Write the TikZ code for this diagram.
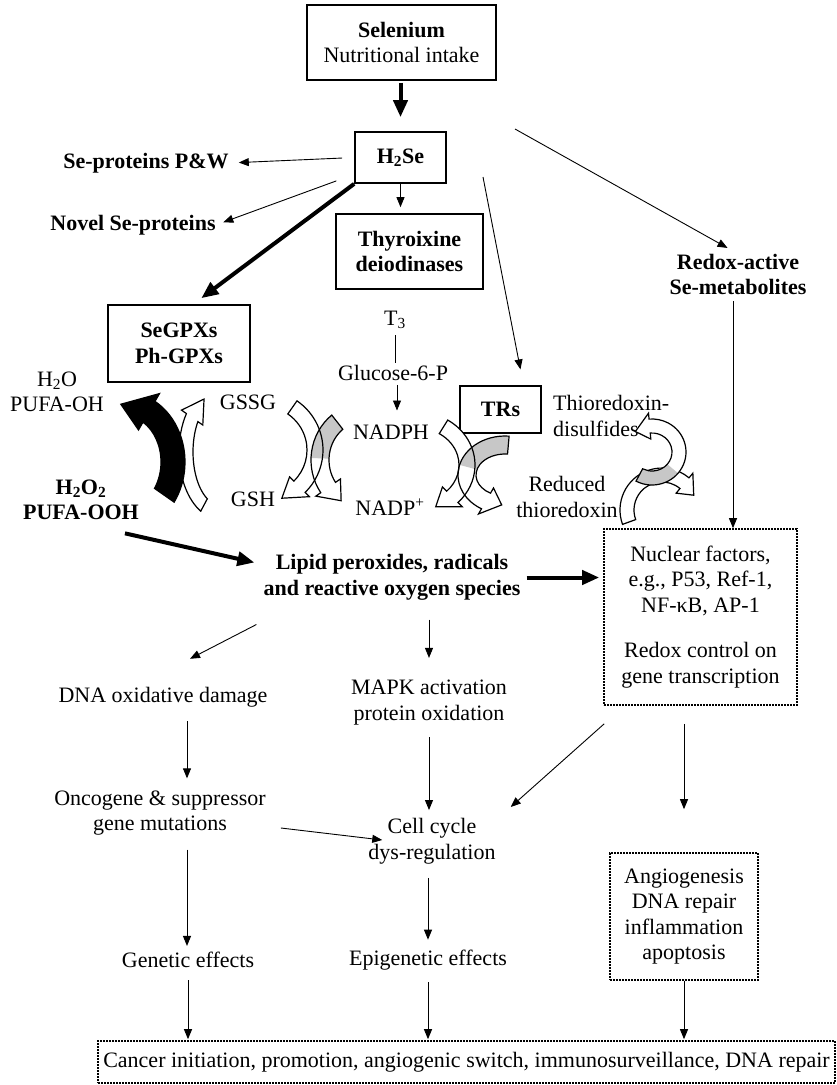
\documentclass[tikz,border=0pt]{standalone}
\usepackage{fontspec}
\setmainfont{Liberation Serif}
\usetikzlibrary{arrows.meta}

% curved broad arrow running along an elliptical arc
% #1 style, #2 centre, #3 rx, #4 ry, #5 tail angle, #6 head-base angle, #7 tip angle,
% #8 half width of the band, #9 half width of the head
\newcommand\cyclearrow[9]{%
  \pgfmathsetmacro\cxo{#3+#8}\pgfmathsetmacro\cyo{#4+#8}%
  \pgfmathsetmacro\cxi{#3-#8}\pgfmathsetmacro\cyi{#4-#8}%
  \pgfmathsetmacro\cxh{#3+#9}\pgfmathsetmacro\cyh{#4+#9}%
  \pgfmathsetmacro\cxj{#3-#9}\pgfmathsetmacro\cyj{#4-#9}%
  \path[#1, shift={#2}]
    ({\cxo*cos(#5)},{\cyo*sin(#5)})
    arc[start angle=#5, end angle=#6, x radius=\cxo, y radius=\cyo]
    -- ({\cxh*cos(#6)},{\cyh*sin(#6)})
    -- ({#3*cos(#7)},{#4*sin(#7)})
    -- ({\cxj*cos(#6)},{\cyj*sin(#6)})
    -- ({\cxi*cos(#6)},{\cyi*sin(#6)})
    arc[start angle=#6, end angle=#5, x radius=\cxi, y radius=\cyi]
    -- cycle;}

% a plain piece of such a band (used for the shaded tails)
% #1 style, #2 centre, #3 rx, #4 ry, #5 from angle, #6 to angle, #7 half width
\newcommand\cycleband[7]{%
  \pgfmathsetmacro\cxo{#3+#7}\pgfmathsetmacro\cyo{#4+#7}%
  \pgfmathsetmacro\cxi{#3-#7}\pgfmathsetmacro\cyi{#4-#7}%
  \path[#1, shift={#2}]
    ({\cxo*cos(#5)},{\cyo*sin(#5)})
    arc[start angle=#5, end angle=#6, x radius=\cxo, y radius=\cyo]
    -- ({\cxi*cos(#6)},{\cyi*sin(#6)})
    arc[start angle=#6, end angle=#5, x radius=\cxi, y radius=\cyi]
    -- cycle;}

\definecolor{tailgrey}{gray}{0.78}

\begin{document}
\begin{tikzpicture}[x=1pt,y=-1pt,
  every node/.style={font=\fontsize{22}{25.5}\selectfont, inner sep=0pt, align=center},
  bx/.style={draw, line width=1.7pt},
  dbx/.style={draw, line width=1.6pt, dash pattern=on 1.6pt off 1.4pt},
  arr/.style={-{Triangle[length=10pt,width=8pt]}, line width=0.9pt},
  tarr/.style={-{Triangle[length=17pt,width=14pt]}, line width=4pt},
  cyc/.style={line width=1.2pt, line join=miter},
]
\useasboundingbox (0,0) rectangle (837,1085);

% ---------- boxes ----------
\node[bx, minimum width=189pt, minimum height=75pt] (sel) at (401.5,42.5)
  {\textbf{Selenium}\\Nutritional intake};
\node[bx, minimum width=91pt, minimum height=51pt] (h2se) at (400.5,157.5)
  {\textbf{H\textsubscript{2}Se}};
\node[bx, minimum width=147pt, minimum height=75pt] (thy) at (409.5,251.5)
  {\textbf{Thyroixine}\\\textbf{deiodinases}};
\node[bx, minimum width=142pt, minimum height=77pt] (segpx) at (179,343.5)
  {\textbf{SeGPXs}\\\textbf{Ph-GPXs}};
\node[bx, minimum width=81pt, minimum height=47pt] (trs) at (500.5,409.5)
  {\textbf{TRs}};
\node[dbx, minimum width=193pt, minimum height=176pt] (nuc) at (700.5,617)
  {Nuclear factors,\\e.g., P53, Ref-1,\\NF-κB, AP-1\\[20pt]Redox control on\\gene transcription};
\node[dbx, minimum width=148pt, minimum height=127pt] (angio) at (684,916.5)
  {Angiogenesis\\DNA repair\\inflammation\\apoptosis};
\node[dbx, minimum width=737pt, minimum height=42pt] (can) at (466.5,1062)
  {Cancer initiation, promotion, angiogenic switch, immunosurveillance, DNA repair};

% ---------- labels ----------
\node (sepw) at (146,163) {\textbf{Se-proteins P\&W}};
\node (novel) at (133,225) {\textbf{Novel Se-proteins}};
\node (redox) at (738,274.5) {\textbf{Redox-active}\\\textbf{Se-metabolites}};
\node (t3) at (395,320) {T\textsubscript{3}};
\node (glu) at (393,373) {Glucose-6-P};
\node (nadph) at (391,432) {NADPH};
\node (nadp) at (390,507) {NADP\textsuperscript{+}};
\node (gssg) at (248,402) {GSSG};
\node (gsh) at (253,499) {GSH};
\node (h2o) at (57,392) {H\textsubscript{2}O\\PUFA-OH};
\node (hpo) at (81,500) {\textbf{H\textsubscript{2}O\textsubscript{2}}\\\textbf{PUFA-OOH}};
\node[anchor=west, align=left] (trxd) at (553,416) {Thioredoxin-\\disulfides};
\node (rtrx) at (567,497) {Reduced\\thioredoxin};
\node (lipid) at (392,577.5) {\textbf{Lipid peroxides, radicals}\\\textbf{and reactive oxygen species}};
\node (dna) at (163,697) {DNA oxidative damage};
\node (mapk) at (429,702.5) {MAPK activation\\protein oxidation};
\node (onc) at (160,813) {Oncogene \& suppressor\\gene mutations};
\node (cell) at (432,841) {Cell cycle\\dys-regulation};
\node (gen) at (188,960) {Genetic effects};
\node (epi) at (428,960) {Epigenetic effects};

\coordinate (trsfrom) at (483,177);
\coordinate (redfrom) at (515,129);

% ---------- connectors ----------
\draw[tarr, shorten <=2pt, shorten >=14pt] (sel.south -| h2se.north) -- (h2se.north);
\draw[arr, shorten <=12pt, shorten >=10pt] (h2se.west) -- (sepw.east);
\draw[arr, shorten <=19pt, shorten >=8pt] (h2se.200) -- (novel.east);
\draw[tarr, shorten >=10pt] (h2se.south west) -- (segpx.70);
\draw[arr, shorten >=6pt] (h2se.south) -- (h2se.south |- thy.north);
\draw[arr, shorten >=16pt] (trsfrom) -- ([xshift=23pt]trs.north);
\draw[arr, shorten >=12pt] (redfrom) -- (redox.north);
\draw[line width=0.9pt, shorten <=6pt, shorten >=2pt] (t3.south) -- (t3.south |- glu.north);
\draw[arr, shorten <=4pt, shorten >=14pt] ([xshift=4pt]glu.south) -- ([xshift=4pt]glu.south |- nadph.north);
\draw[tarr] ([xshift=44pt,yshift=-13pt]hpo.south) -- ([xshift=-9pt,yshift=15pt]lipid.west);
\draw[tarr, shorten <=6pt, shorten >=4pt] (lipid.east) -- (lipid.east -| nuc.west);
\draw[arr, shorten <=6pt] ([xshift=-5pt]redox.south) -- ([xshift=-5pt]redox.south |- nuc.north);
\draw[arr] ([xshift=-7pt,yshift=-24pt]lipid.south west) -- ([xshift=27pt,yshift=28pt]dna.north);
\draw[arr, shorten <=19pt, shorten >=22pt] (mapk.north |- lipid.south) -- (mapk.north);
\draw[arr, shorten <=14pt, shorten >=12pt] ([xshift=24pt]dna.south) -- ([xshift=24pt]dna.south |- onc.north);
\draw[arr, shorten <=12pt, shorten >=8pt] (mapk.south) -- (mapk.south |- cell.north);
\draw[arr] ([xshift=15pt,yshift=-15pt]onc.east) -- ([xshift=14pt,yshift=1pt]cell.west);
\draw[arr, shorten <=14pt, shorten >=6pt] ([xshift=27pt]onc.south) -- ([xshift=27pt]onc.south |- gen.north);
\draw[arr, shorten <=14pt, shorten >=10pt] ([xshift=-4pt]cell.south) -- ([xshift=-4pt]cell.south |- epi.north);
\draw[arr] ([xshift=1pt,yshift=-18pt]nuc.south west) -- ([xshift=15pt,yshift=34pt]cell.east);
\draw[arr, shorten <=18pt, shorten >=43pt] (angio.north |- nuc.south) -- (angio.north);
\draw[arr, shorten <=12pt, shorten >=1pt] (gen.south) -- (gen.south |- can.north);
\draw[arr, shorten <=12pt, shorten >=1pt] (epi.south) -- (epi.south |- can.north);
\draw[arr, shorten >=1pt] (angio.south) -- (angio.south |- can.north);

% ---------- coupled reaction arrows ----------
% glutathione peroxidase pair
\cyclearrow{cyc, draw, fill=white}{(220,452)}{34}{60}{118}{215}{242}{7}{13}
\cyclearrow{cyc, draw, fill=black}{(125,462)}{48}{58}{35}{-60}{-95}{12}{21}

% glutathione reductase pair
\cyclearrow{fill=white}{(262,450)}{53}{52}{-55}{45}{68}{8}{14}
\cyclearrow{fill=white}{(365,460)}{45}{48}{-128}{-215}{-238}{9}{15}
\cycleband{fill=tailgrey}{(365,460)}{45}{48}{-128}{-178}{9}
\cyclearrow{cyc, draw}{(262,450)}{53}{52}{-55}{45}{68}{8}{14}
\cyclearrow{cyc, draw}{(365,460)}{45}{48}{-128}{-215}{-238}{9}{15}

% thioredoxin reductase pair
\cyclearrow{fill=white}{(417,465)}{50}{45}{-58}{45}{68}{8}{14}
\cyclearrow{fill=white}{(505,475)}{38}{30}{-85}{-240}{-265}{9}{15}
\cycleband{fill=tailgrey}{(505,475)}{38}{30}{-85}{-165}{9}
\cyclearrow{cyc, draw}{(417,465)}{50}{45}{-58}{45}{68}{8}{14}
\cyclearrow{cyc, draw}{(505,475)}{38}{30}{-85}{-240}{-265}{9}{15}

% thioredoxin pair
\cyclearrow{cyc, draw, fill=white}{(662,510)}{35}{35}{160}{310}{335}{7}{13}
\cyclearrow{fill=white}{(652,452)}{27}{26}{118}{-95}{-128}{7}{13}
\cycleband{fill=tailgrey}{(652,452)}{27}{26}{118}{40}{7}
\cyclearrow{cyc, draw}{(652,452)}{27}{26}{118}{-95}{-128}{7}{13}

\end{tikzpicture}
\end{document}
